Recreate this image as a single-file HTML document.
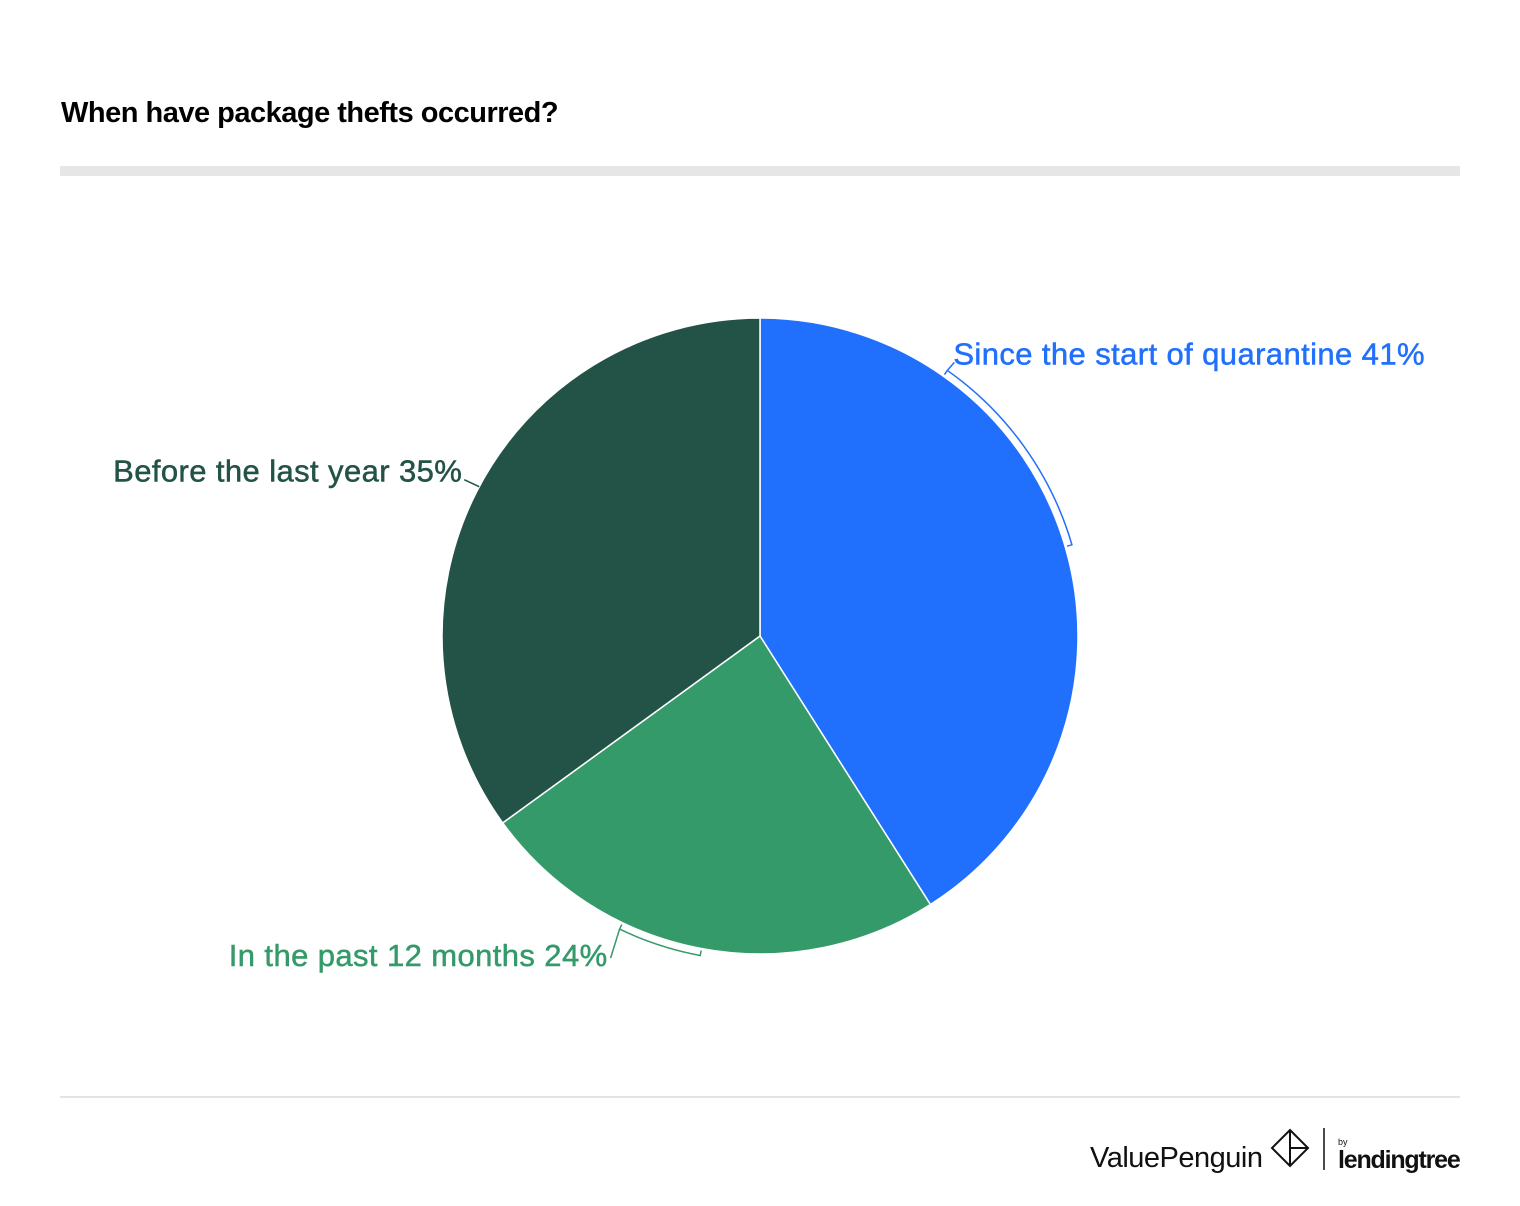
<!DOCTYPE html>
<html><head><meta charset="utf-8"><style>
body{margin:0;width:1520px;height:1206px;background:#fff;font-family:"Liberation Sans",sans-serif;position:relative;overflow:hidden}
.title{position:absolute;left:61px;top:97px;font-size:29px;font-weight:bold;color:#000;letter-spacing:-0.5px}
.bar{position:absolute;left:60px;top:166px;width:1400px;height:10px;background:#e6e6e6}
.rule{position:absolute;left:60px;top:1096px;width:1400px;height:2px;background:#e3e3e3}
</style></head><body>
<div class="title">When have package thefts occurred?</div>
<div class="bar"></div>
<svg id="chart" width="1520" height="1206" style="position:absolute;left:0;top:0"></svg>
<div class="rule"></div>
<svg width="400" height="60" style="position:absolute;left:1080px;top:1120px">
<text x="10" y="47" font-size="29" font-family="Liberation Sans" fill="#111" letter-spacing="-0.5">ValuePenguin</text>
<g fill="none" stroke="#111" stroke-width="2"><path d="M210 10 L228 28 L210 46 L192 28 Z M210 10 L210 46 M210 28 L228 28"/></g>
<line x1="244" y1="8" x2="244" y2="50" stroke="#111" stroke-width="1.5"/>
<text x="258" y="25" font-size="9" fill="#111">by</text>
<text x="258" y="48" font-size="25" font-weight="bold" fill="#111" letter-spacing="-1.2">lendingtree</text>
</svg>
<script>
const labels=["Since the start of quarantine","In the past 12 months","Before the last year"];
const values=[41,24,35];
const colors=["#2170fd","#359a69","#235347"];
const cx=760,cy=636,r=318;
const svg=document.getElementById('chart');
const NS="http://www.w3.org/2000/svg";
const total=values.reduce((a,b)=>a+b,0);
function pt(a,rr){return [cx+rr*Math.sin(a),cy-rr*Math.cos(a)];}
let acc=0;const angs=[];
values.forEach((v,i)=>{
 const a0=acc/total*2*Math.PI;acc+=v;const a1=acc/total*2*Math.PI;angs.push([a0,a1]);
 const p0=pt(a0,r),p1=pt(a1,r);const large=(a1-a0)>Math.PI?1:0;
 const p=document.createElementNS(NS,'path');
 p.setAttribute('d',`M${cx} ${cy} L${p0[0]} ${p0[1]} A${r} ${r} 0 ${large} 1 ${p1[0]} ${p1[1]} Z`);
 p.setAttribute('fill',colors[i]);p.setAttribute('stroke','#fff');p.setAttribute('stroke-width','1.5');
 
 
 svg.appendChild(p);
});
function bracket(a0,a1,col){
 const rr=r+7,ri=r+2;const s=pt(a0,rr),e=pt(a1,rr),si=pt(a0,ri),ei=pt(a1,ri);
 const p=document.createElementNS(NS,'path');
 p.setAttribute('d',`M${si[0]} ${si[1]} L${s[0]} ${s[1]} A${rr} ${rr} 0 0 1 ${e[0]} ${e[1]} L${ei[0]} ${ei[1]}`);
 p.setAttribute('fill','none');p.setAttribute('stroke',col);p.setAttribute('stroke-width','1.5');
 svg.appendChild(p);return s;
}
function line(x1,y1,x2,y2,col){const l=document.createElementNS(NS,'line');
 l.setAttribute('x1',x1);l.setAttribute('y1',y1);l.setAttribute('x2',x2);l.setAttribute('y2',y2);
 l.setAttribute('stroke',col);l.setAttribute('stroke-width','1.5');svg.appendChild(l);}
function text(x,y,s,col,anchor,name){const t=document.createElementNS(NS,'text');
 t.setAttribute('x',x);t.setAttribute('y',y);t.setAttribute('fill',col);t.setAttribute('font-size','31');
 t.setAttribute('letter-spacing','0.4');t.setAttribute('stroke',col);t.setAttribute('stroke-width','0.5');
 t.setAttribute('text-anchor',anchor);t.setAttribute('font-family','Liberation Sans, sans-serif');t.textContent=s;
 
 
 svg.appendChild(t);}
// blue
let s=bracket(35.2*Math.PI/180,73.7*Math.PI/180,colors[0]);
line(s[0],s[1],s[0]+7,s[1]-8,colors[0]);
text(s[0]+6,s[1]-6,labels[0]+" "+values[0]+"%",colors[0],'start','label-quarantine');
// green
s=bracket(190.6*Math.PI/180,205.6*Math.PI/180,colors[1]);
s=pt(205.6*Math.PI/180,r+7);
line(s[0],s[1],s[0]-9,s[1]+29,colors[1]);
text(s[0]-12,s[1]+37,labels[1]+" "+values[1]+"%",colors[1],'end','label-past-12-months');
// dark
const d=pt(298*Math.PI/180,r);
line(d[0],d[1],d[0]-15,d[1]-7,colors[2]);
text(d[0]-17,d[1]-5,labels[2]+" "+values[2]+"%",colors[2],'end','label-before-last-year');
</script>
</body></html>
